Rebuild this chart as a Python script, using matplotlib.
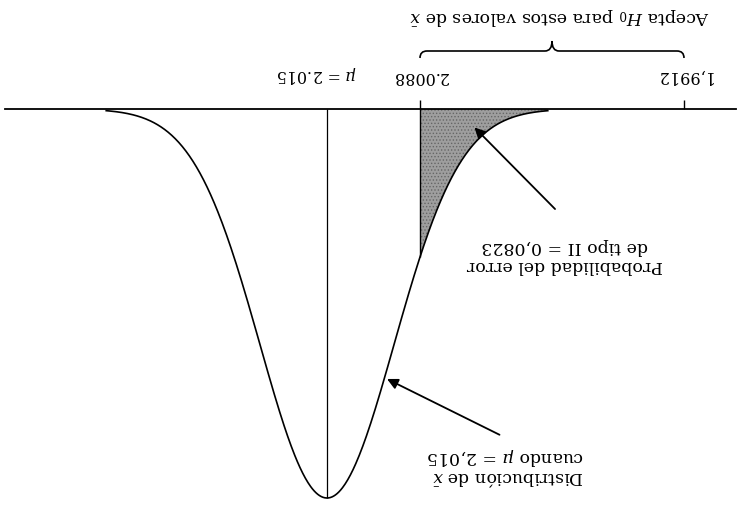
import numpy as np
import matplotlib.pyplot as plt
from matplotlib.path import Path
from matplotlib.patches import PathPatch
from matplotlib.transforms import blended_transform_factory

# datos de la prueba
mu = 2.015                  # media verdadera
limites = [2.0088, 1.9912]  # region de aceptacion de H0
beta = 0.0823               # probabilidad del error de tipo II
z_beta = 1.39               # de tablas: P(Z < -1.39) = 0.0823

etiquetas = ["2.0088", "1,9912"]
etiqueta_mu = r"$\mu$ = 2.015"

sigma = (mu - limites[0]) / z_beta


def normal(x):
    return np.exp(-0.5 * ((x - mu) / sigma) ** 2) / (sigma * np.sqrt(2 * np.pi))


W, H = 737, 510
plt.rcParams['font.family'] = ['DejaVu Serif']
plt.rcParams['mathtext.fontset'] = 'dejavuserif'
plt.rcParams['hatch.linewidth'] = 0.6

fig = plt.figure(figsize=(W / 100, H / 100), dpi=100)
ax = fig.add_axes([0, 0, 1, 1])
ax.axis('off')

# el dibujo va girado 180 grados: ejes invertidos y textos rotados
escala = 15000.0  # pixeles por unidad de x
pico = normal(mu)
ax.set_xlim(limites[0] + 420 / escala, limites[0] - (W - 420) / escala)
ax.set_ylim((H - 110) / 389 * pico, -110 / 389 * pico)

mix = blended_transform_factory(ax.transData, ax.transAxes)


def fy(ypx):
    return 1 - ypx / H


# curva normal
xs = np.linspace(mu - 3.3 * sigma, mu + 3.3 * sigma, 500)
ax.plot(xs, normal(xs), color='black', lw=1.2, zorder=3)

# area del error de tipo II
xb = np.linspace(mu - 3.3 * sigma, limites[0], 300)
ax.fill_between(xb, 0, normal(xb), facecolor='#9e9e9e', hatch='.....',
                edgecolor='#666666', linewidth=0, zorder=2)

# eje horizontal, media y limite
ax.axhline(0, xmin=0.007, xmax=0.998, color='black', lw=1.3, zorder=4)
ax.vlines(mu, 0, pico, color='black', lw=0.9, zorder=3)
ax.vlines(limites[0], 0, normal(limites[0]), color='black', lw=1.0, zorder=3)
tick = 9 / 389 * pico
ax.vlines(limites, 0, -tick, color='black', lw=1.0, zorder=3)

# etiquetas de los valores
for v, t in zip(limites, etiquetas):
    ax.text(v, fy(76), t, transform=mix, rotation=180, ha='center', va='center',
            fontsize=11.5)
ax.text(mu + 0.0007, fy(74), etiqueta_mu, transform=mix, rotation=180,
        ha='center', va='center', fontsize=11.5)

# llave sobre la region de aceptacion
a, b = limites
m = (a + b) / 2
w = 7 / escala
y0, y1, y2 = fy(59), fy(52), fy(42)
verts = [(a, y0), (a, y1), (a - w, y1), (m + w, y1), (m, y1), (m, y2),
         (m, y1), (m - w, y1), (b + w, y1), (b, y1), (b, y0)]
codes = [Path.MOVETO, Path.CURVE3, Path.CURVE3, Path.LINETO, Path.CURVE3, Path.CURVE3,
         Path.CURVE3, Path.CURVE3, Path.LINETO, Path.CURVE3, Path.CURVE3]
ax.add_patch(PathPatch(Path(verts, codes), facecolor='none', edgecolor='black',
                       lw=1.2, transform=mix))
ax.text(m - 0.0005, fy(17), r"Acepta $H_0$ para estos valores de $\bar{x}$", transform=mix,
        rotation=180, ha='center', va='center', fontsize=12.5)

# anotaciones con flecha
xp = limites[0] - 0.0035
ax.annotate("", xy=(xp, 0.45 * normal(xp)), xytext=(557 / W, fy(212)),
            textcoords='axes fraction',
            arrowprops=dict(arrowstyle='-|>', color='black', lw=1.3, mutation_scale=16))
ax.text(565 / W, fy(256), "Probabilidad del error\nde tipo II = 0,0823",
        transform=ax.transAxes, rotation=180, ha='center', va='center',
        multialignment='center', fontsize=12.5, linespacing=1.1)

xd = mu - 0.86 * sigma
ax.annotate("", xy=(xd, normal(xd)), xytext=(502 / W, fy(437)),
            textcoords='axes fraction',
            arrowprops=dict(arrowstyle='-|>', color='black', lw=1.3, mutation_scale=16))
ax.text(506 / W, fy(466), "Distribución de $\\bar{x}$\ncuando $\\mu$ = 2,015",
        transform=ax.transAxes, rotation=180, ha='center', va='center',
        multialignment='left', fontsize=12.5, linespacing=1.1)

fig.savefig('out.png', dpi=100, facecolor='white')
